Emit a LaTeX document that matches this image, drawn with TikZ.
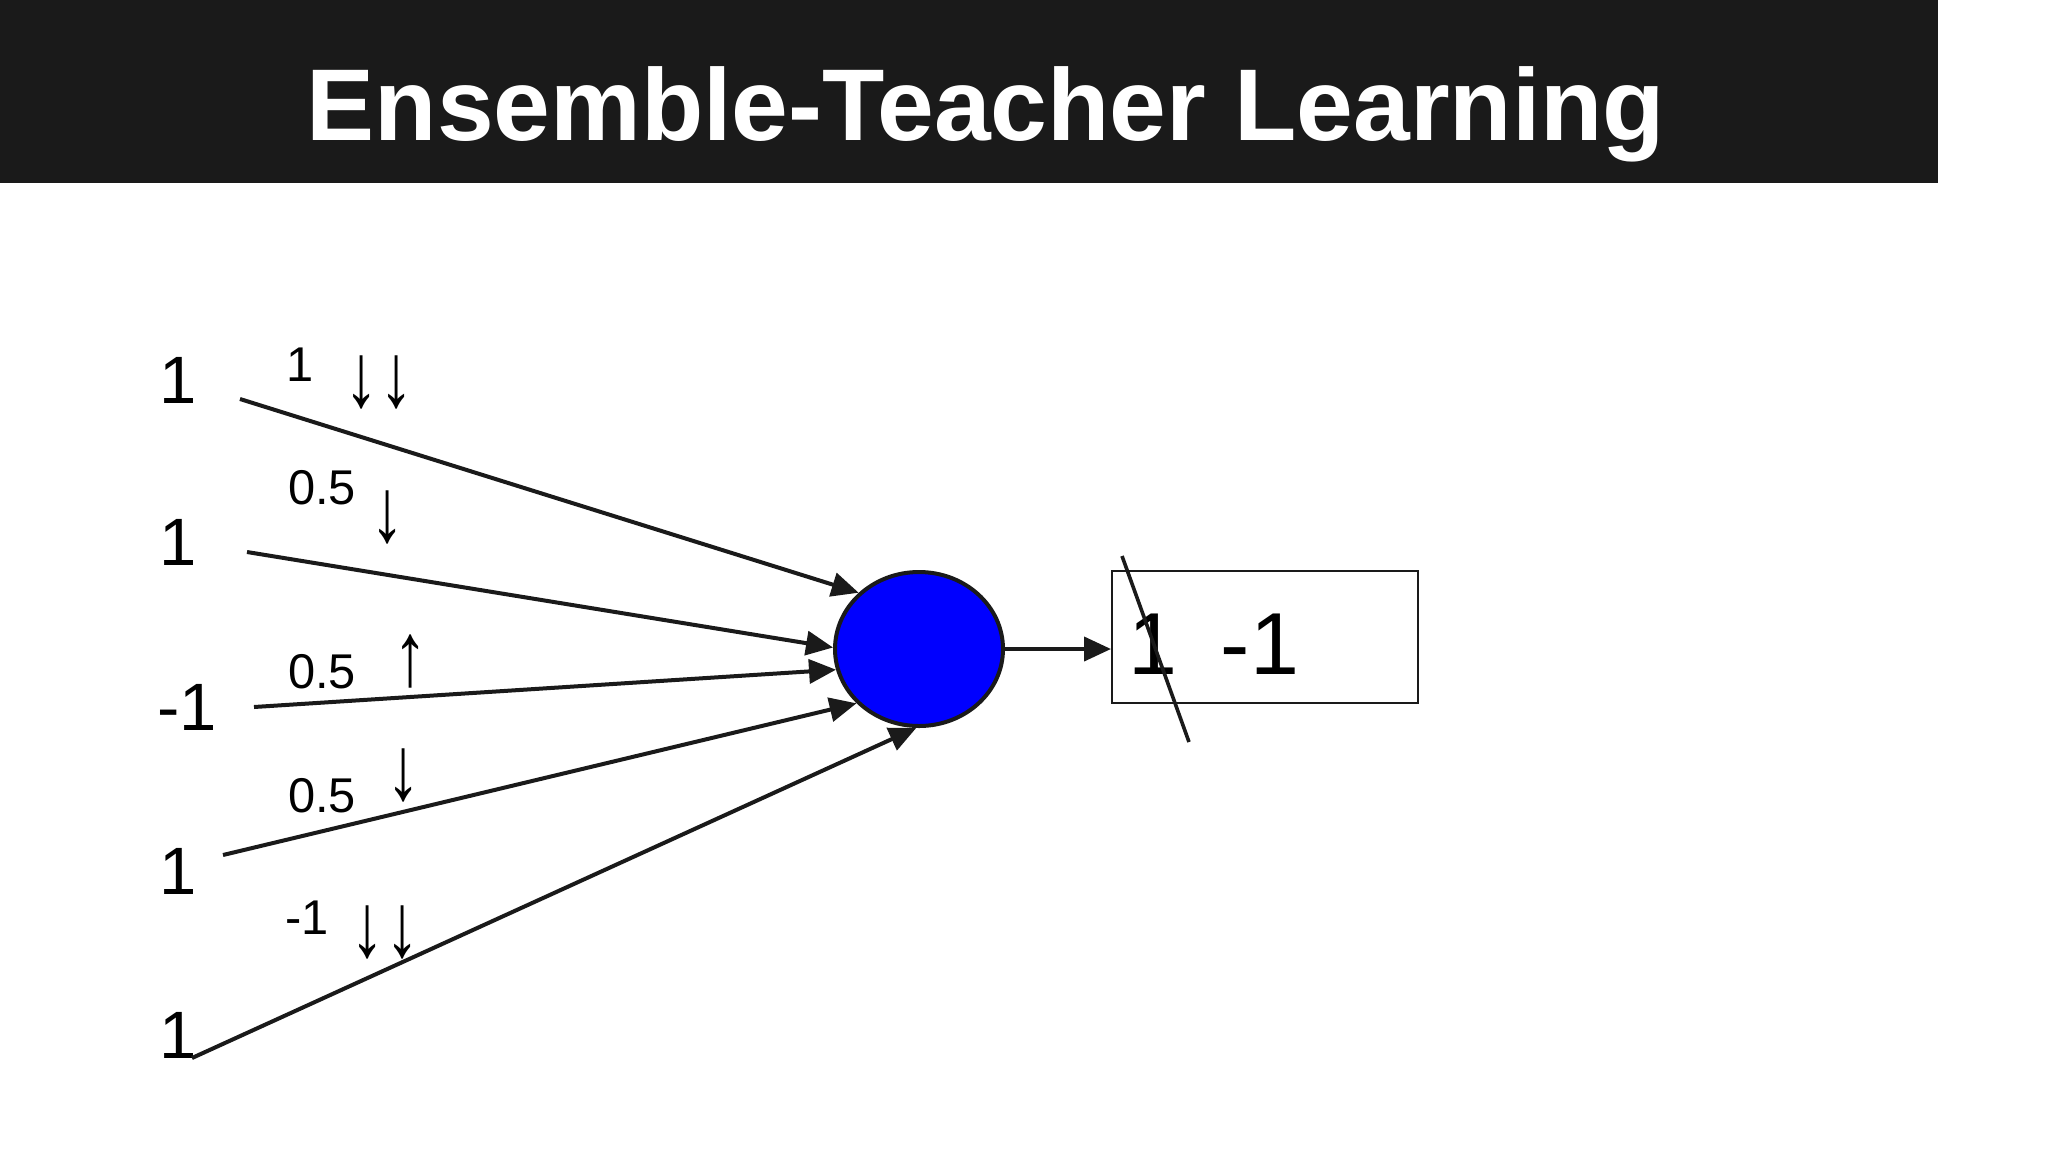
\documentclass[tikz,border=0pt]{standalone}
\usepackage{fontspec}
\usepackage{graphicx}
\setmainfont{Liberation Sans}
\usetikzlibrary{shapes.geometric,arrows.meta}
\definecolor{ink}{RGB}{26,26,26}
\definecolor{bar}{RGB}{26,26,26}
\definecolor{neuron}{RGB}{0,0,255}
\newcommand{\tallarrows}[1]{\scalebox{1.4}[1.85]{#1}}
\tikzset{
  inlabel/.style={inner sep=0pt, font=\fontsize{33.5}{36}\selectfont, text=black},
  wlabel/.style={inner sep=0pt, font=\fontsize{24.4}{28}\selectfont, text=black},
  warrow/.style={inner sep=0pt, font=\fontsize{24.4}{28}\selectfont, text=black},
  outlabel/.style={inner sep=0pt, font=\fontsize{44}{48}\selectfont, text=black},
  conn/.style={draw=ink, line width=2pt, -{Triangle[length=13.5pt,width=12pt]}},
}
\begin{document}
\begin{tikzpicture}[x=0.5pt,y=-0.5pt]
\useasboundingbox (0,0) rectangle (2048,1152);
\fill[white] (0,0) rectangle (2048,1152);
\fill[bar] (0,0) rectangle (1938,183);
\node[anchor=base, inner sep=0pt, text=white, font=\bfseries\fontsize{51}{56}\selectfont] (title) at (986,140) {Ensemble-Teacher Learning};

% neuron
\node[ellipse, draw=ink, line width=2pt, fill=neuron, minimum width=84pt, minimum height=77pt, inner sep=0pt] (circ) at (919,649) {};

% input labels
\node[inlabel] (i1) at (178,380) {1};
\node[inlabel] (i2) at (178,542) {1};
\node[inlabel] (i3) at (187,707) {-1};
\node[inlabel] (i4) at (178,871) {1};
\node[inlabel] (i5) at (178,1035) {1};

% line starts
\coordinate (s1) at (240,399);
\coordinate (s2) at (247,552);
\coordinate (s3) at (254,707);
\coordinate (s4) at (223,855);
\coordinate (s5) at (192,1058);

\draw[conn] (s1) -- (circ.137.4);
\draw[conn] (s2) -- (circ.179);
\draw[conn] (s3) -- (circ.194.4);
\draw[conn] (s4) -- (circ.221.5);
\draw[conn] (s5) -- (circ.268.5);

% weight labels
\node[wlabel] (w1) at (300,365) {1};
\node[warrow] (a1) at (379,382) {\tallarrows{↓↓}};
\node[wlabel] (w2) at (322,488) {0.5};
\node[warrow] (a2) at (388,517) {\tallarrows{↓}};
\node[wlabel] (w3) at (322,672) {0.5};
\node[warrow] (a3) at (411,661) {\tallarrows{↑}};
\node[wlabel] (w4) at (322,796) {0.5};
\node[warrow] (a4) at (404,775) {\tallarrows{↓}};
\node[wlabel] (w5) at (307,918) {-1};
\node[warrow] (a5) at (385,932) {\tallarrows{↓↓}};

% output box
\node[draw=ink, line width=1pt, minimum width=153pt, minimum height=66pt, inner sep=0pt] (box) at (1265,637) {};
\node[outlabel] (o1) at (1153,644) {1};
\node[outlabel] (o2) at (1260,644) {-1};
\draw[conn] (circ.east) -- (circ.east -| box.west);

% strike-through
\coordinate (k1) at (1122,556);
\coordinate (k2) at (1189,742);
\draw[ink, line width=1.8pt] (k1) -- (k2);
\end{tikzpicture}
\end{document}
